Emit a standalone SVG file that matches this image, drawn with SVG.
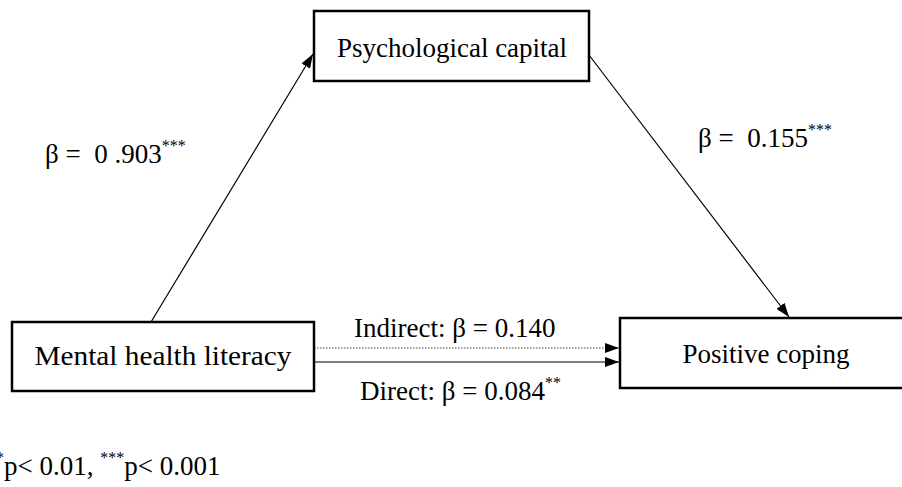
<svg xmlns="http://www.w3.org/2000/svg" width="902" height="487" viewBox="0 0 902 487">
<style>
text{font-family:'Liberation Serif','Tinos','Times New Roman','DejaVu Serif',serif;font-size:27px;fill:#000}
.pre{white-space:pre}
.box{fill:#fff;stroke:#000;stroke-width:2.5}
.edge{stroke:#000;stroke-width:1.2;fill:none}
.dot{stroke:#444;stroke-width:1.2;stroke-dasharray:1.5 1.5;fill:none}
.sup{font-size:16px}
</style>
<defs>
<marker id="ah" viewBox="0 0 14 10" refX="14" refY="5" markerWidth="14" markerHeight="10" markerUnits="userSpaceOnUse" orient="auto">
<path d="M0,0 L14,5 L0,10 Z" fill="#000"/>
</marker>
</defs>
<rect width="902" height="487" fill="#fff"/>
<g id="connectors">
<line class="edge" x1="151" y1="322" x2="313" y2="54" marker-end="url(#ah)"/>
<line class="edge" x1="589" y1="55" x2="789" y2="317" marker-end="url(#ah)"/>
<line class="dot" x1="314" y1="348" x2="619" y2="348" marker-end="url(#ah)"/>
<line class="edge" x1="314" y1="362" x2="619" y2="362" marker-end="url(#ah)"/>
</g>
<g id="psycap">
<rect class="box" x="314" y="11" width="275" height="70"/>
<text x="452" y="57" text-anchor="middle">Psychological capital</text>
</g>
<g id="mhl">
<rect class="box" x="12" y="322" width="302" height="69"/>
<text x="163" y="365" text-anchor="middle" font-size="29" textLength="257" lengthAdjust="spacingAndGlyphs">Mental health literacy</text>
</g>
<g id="coping">
<rect class="box" x="620" y="318" width="290" height="70"/>
<text x="766" y="363" text-anchor="middle">Positive coping</text>
</g>
<g id="labels">
<text class="pre" x="45" y="163">β =  0 .903<tspan class="sup" dy="-12">***</tspan></text>
<text class="pre" x="698" y="147">β =  0.155<tspan class="sup" dy="-12">***</tspan></text>
<text x="354" y="337">Indirect: β = 0.140</text>
<text x="360" y="400">Direct: β = 0.084<tspan class="sup" dy="-12">**</tspan></text>
<text x="-12" y="475"><tspan class="sup" dy="-12">**</tspan><tspan dy="12">p&lt; 0.01, </tspan><tspan class="sup" dy="-12">***</tspan><tspan dy="12">p&lt; 0.001</tspan></text>
</g>
</svg>
